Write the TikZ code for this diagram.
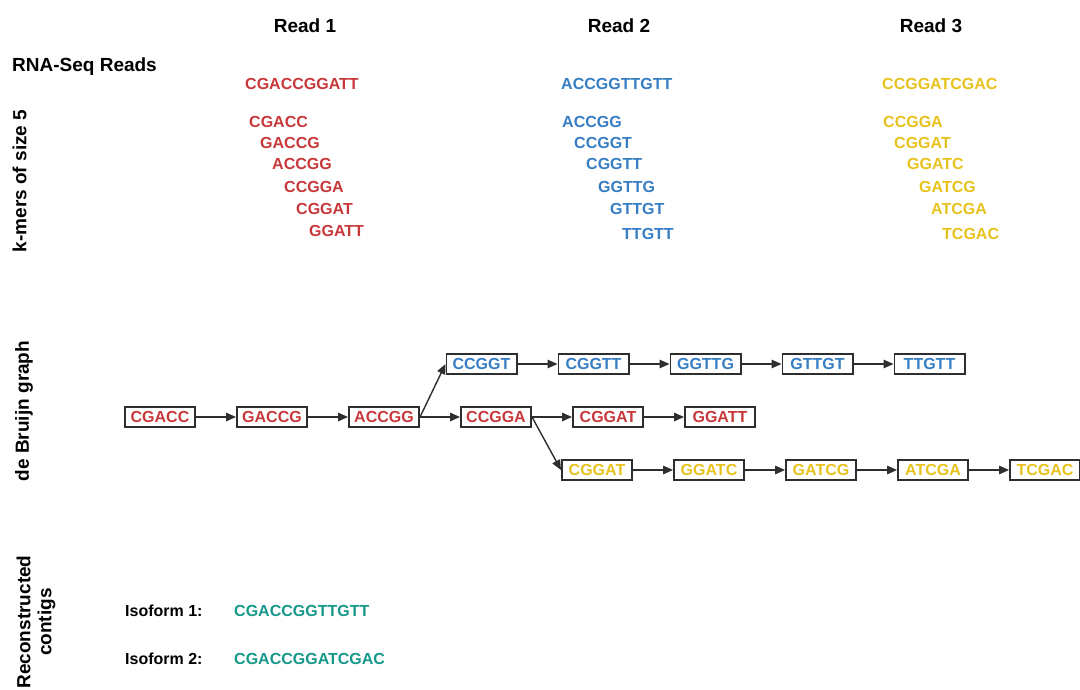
\documentclass[tikz,border=0pt]{standalone}
\usepackage{fontspec}
\setmainfont{Liberation Sans}
\usepackage{tikz}
\usetikzlibrary{arrows.meta,positioning}
\usepackage{xcolor}
\definecolor{redSeqColor}{HTML}{C8383A}
\definecolor{blueSeqColor}{HTML}{377DC3}
\definecolor{yellowSeqColor}{HTML}{E8C21C}
\definecolor{tealSeqColor}{HTML}{15978A}
\definecolor{edgeColor}{HTML}{2E2E2E}
\tikzset{
  seqText/.style = {inner sep=0pt, anchor=west, font=\fontsize{16}{18}\selectfont\bfseries},
  redSeq/.style = {seqText, redSeqColor},% k-mers du read 1
  blueSeq/.style = {seqText, blueSeqColor},% k-mers du read 2
  yellowSeq/.style = {seqText, yellowSeqColor},% k-mers du read 3
  tealSeq/.style = {seqText, tealSeqColor},% contigs
  headText/.style = {inner sep=0pt, font=\fontsize{19}{21}\selectfont\bfseries},
  sideText/.style = {headText, rotate=90, align=center},
  kmerNode/.style = {draw=edgeColor, line width=1.7pt, minimum width=70.3pt,
    minimum height=20.3pt, inner sep=0pt, font=\fontsize{16}{18}\selectfont\bfseries},
  redNode/.style = {kmerNode, text=redSeqColor},
  blueNode/.style = {kmerNode, text=blueSeqColor},
  yellowNode/.style = {kmerNode, text=yellowSeqColor},
  link/.style = {->, draw=edgeColor, line width=1.4pt},
}

\begin{document}
\begin{tikzpicture}[x=1pt, y=-1pt, >={Triangle[length=10pt,width=8.5pt]},
  node distance=40pt]
\useasboundingbox (0,0) rectangle (1080,690);
% titres
\node [headText] (read1) at (305,26) {Read 1};
\node [headText] (read2) at (619,26) {Read 2};
\node [headText] (read3) at (931,26) {Read 3};
\node [headText, anchor=base west] (rnaSeq) at (12,72) {RNA-Seq Reads};
\node [sideText] (kmerLabel) at (19.5,181) {k-mers of size 5};
\node [sideText] (graphLabel) at (24,411) {de Bruijn graph};
\node [sideText] (contigLabel) at (36,622) {Reconstructed\\contigs};

% reads et k-mers
\node [redSeq] (read1Seq) at (245,84) {CGACCGGATT};
\node [redSeq] (r1k1) at (249,122) {CGACC};
\node [redSeq] (r1k2) at (260,143) {GACCG};
\node [redSeq] (r1k3) at (272,164) {ACCGG};
\node [redSeq] (r1k4) at (284,187) {CCGGA};
\node [redSeq] (r1k5) at (296,209) {CGGAT};
\node [redSeq] (r1k6) at (309,231) {GGATT};

\node [blueSeq] (read2Seq) at (561,84) {ACCGGTTGTT};
\node [blueSeq] (r2k1) at (562,122) {ACCGG};
\node [blueSeq] (r2k2) at (574,143) {CCGGT};
\node [blueSeq] (r2k3) at (586,164) {CGGTT};
\node [blueSeq] (r2k4) at (598,187) {GGTTG};
\node [blueSeq] (r2k5) at (610,209) {GTTGT};
\node [blueSeq] (r2k6) at (622,234) {TTGTT};

\node [yellowSeq] (read3Seq) at (882,84) {CCGGATCGAC};
\node [yellowSeq] (r3k1) at (883,122) {CCGGA};
\node [yellowSeq] (r3k2) at (894,143) {CGGAT};
\node [yellowSeq] (r3k3) at (907,164) {GGATC};
\node [yellowSeq] (r3k4) at (919,187) {GATCG};
\node [yellowSeq] (r3k5) at (931,209) {ATCGA};
\node [yellowSeq] (r3k6) at (942,234) {TCGAC};

% graphe de de Bruijn
\node [redNode] (cgacc) at (160,417) {CGACC};
\node [redNode, right=of cgacc] (gaccg) {GACCG};
\node [redNode, right=of gaccg] (accgg) {ACCGG};
\node [redNode, right=of accgg] (ccgga) {CCGGA};
\node [redNode, right=of ccgga] (cggatRed) {CGGAT};
\node [redNode, right=of cggatRed] (ggatt) {GGATT};

\node [blueNode] (ccggt) at (481.5,364) {CCGGT};
\node [blueNode, right=of ccggt] (cggtt) {CGGTT};
\node [blueNode, right=of cggtt] (ggttg) {GGTTG};
\node [blueNode, right=of ggttg] (gttgt) {GTTGT};
\node [blueNode, right=of gttgt] (ttgtt) {TTGTT};

\node [yellowNode] (cggatYellow) at (597,470) {CGGAT};
\node [yellowNode, right=of cggatYellow] (ggatc) {GGATC};
\node [yellowNode, right=of ggatc] (gatcg) {GATCG};
\node [yellowNode, right=of gatcg] (atcga) {ATCGA};
\node [yellowNode, right=of atcga] (tcgac) {TCGAC};

\draw [link] (cgacc) -- (gaccg);
\draw [link] (gaccg) -- (accgg);
\draw [link] (accgg) -- (ccgga);
\draw [link] (ccgga) -- (cggatRed);
\draw [link] (cggatRed) -- (ggatt);
\draw [link] (accgg.east) -- (ccggt.west);
\draw [link] (ccggt) -- (cggtt);
\draw [link] (cggtt) -- (ggttg);
\draw [link] (ggttg) -- (gttgt);
\draw [link] (gttgt) -- (ttgtt);
\draw [link] (ccgga.east) -- (cggatYellow.west);
\draw [link] (cggatYellow) -- (ggatc);
\draw [link] (ggatc) -- (gatcg);
\draw [link] (gatcg) -- (atcga);
\draw [link] (atcga) -- (tcgac);

% contigs
\node [seqText] (iso1) at (125,611) {Isoform 1:};
\node [tealSeq] (iso1Seq) at (234,611) {CGACCGGTTGTT};
\node [seqText] (iso2) at (125,659) {Isoform 2:};
\node [tealSeq] (iso2Seq) at (234,659) {CGACCGGATCGAC};
\end{tikzpicture}
\end{document}
